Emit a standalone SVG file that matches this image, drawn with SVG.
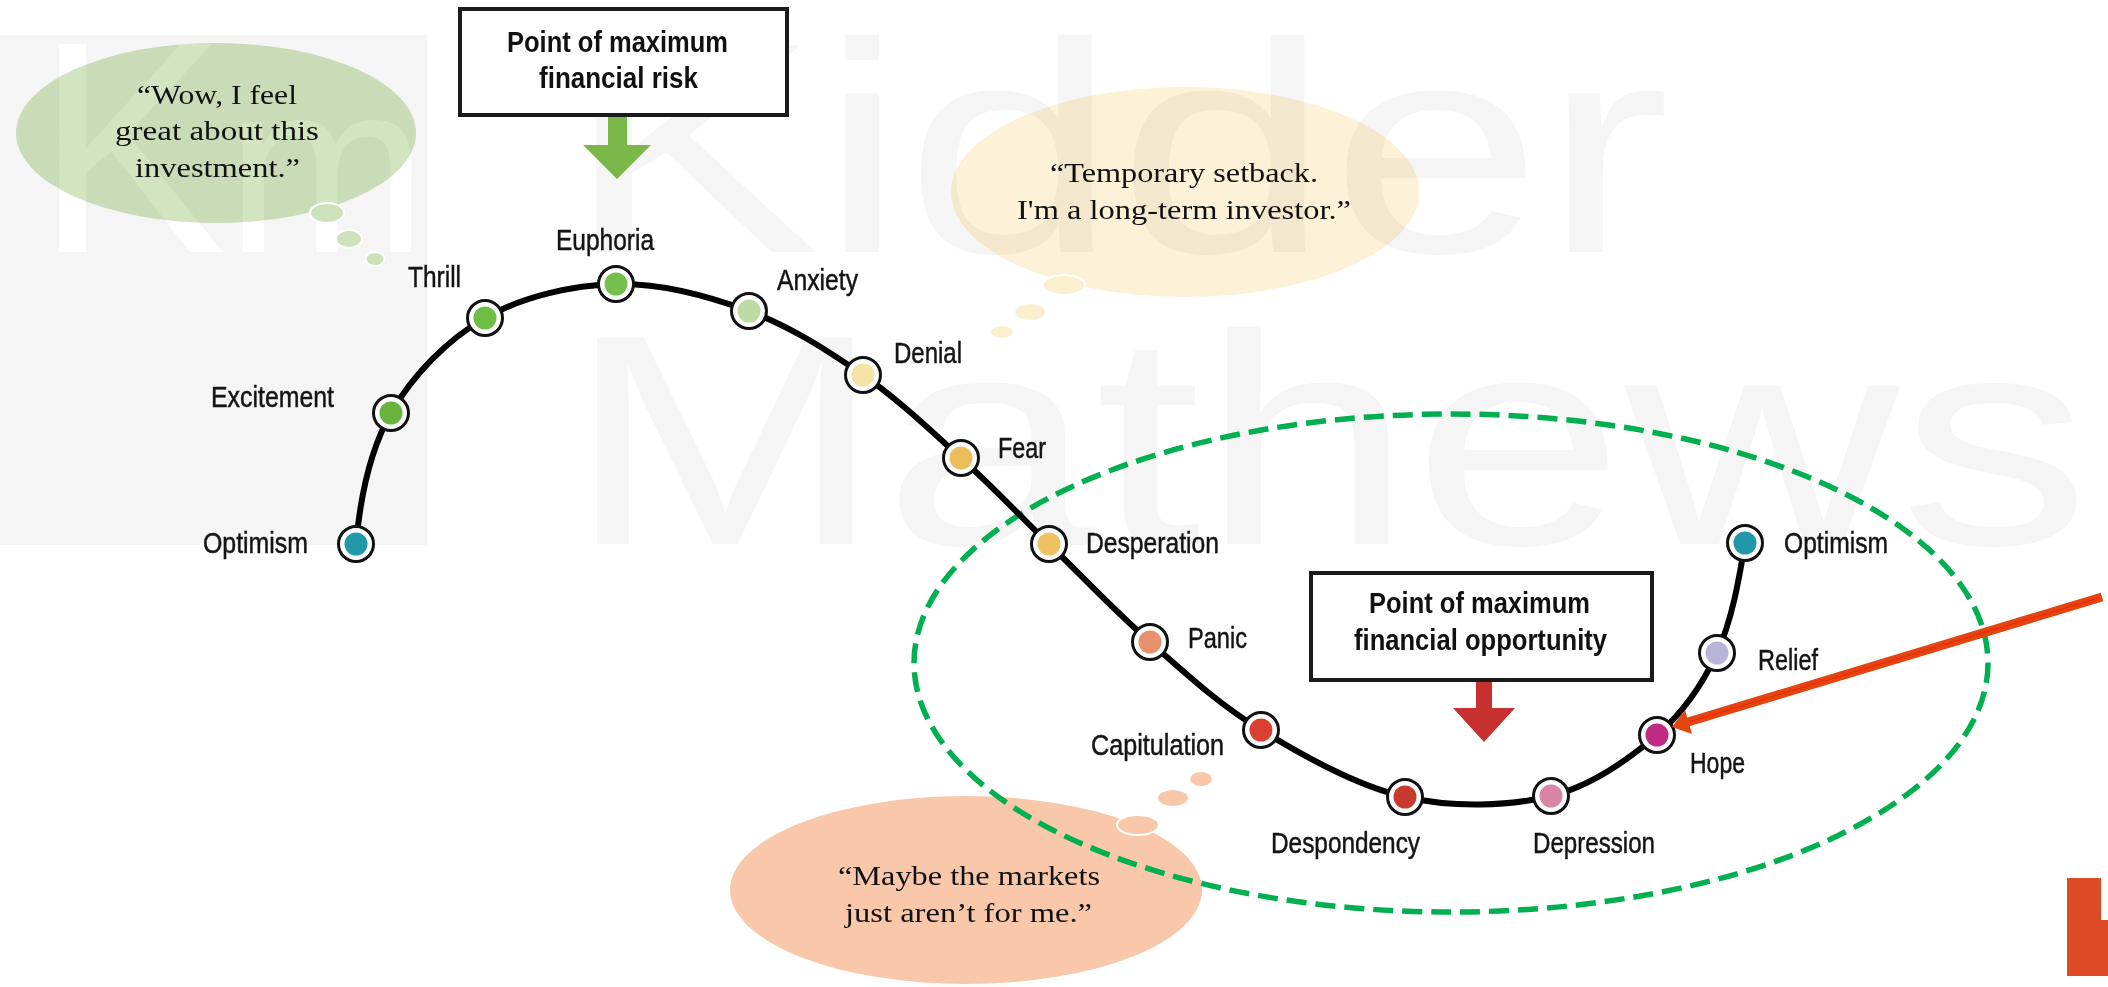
<svg xmlns="http://www.w3.org/2000/svg" width="2108" height="987" viewBox="0 0 2108 987">
<defs>
<style>
.wm{font-family:"Liberation Sans",Arial,sans-serif;fill:#f5f5f5}
.lbl{font-family:"Liberation Sans Narrow","Liberation Sans",Arial,sans-serif;font-size:30px;fill:#141414;stroke:#141414;stroke-width:0.5px}
.ttl{font-family:"Liberation Sans Narrow","Liberation Sans",Arial,sans-serif;font-size:29px;font-weight:bold;fill:#111}
.q{font-family:"Liberation Serif","Times New Roman",serif;font-size:28px;fill:#111}
.ring{fill:#fff;stroke:#111;stroke-width:3}
.box{fill:#fff;stroke:#1a1a1a;stroke-width:4}
.big{mix-blend-mode:multiply}
.puff{stroke:#fff;stroke-width:2}
</style>
<clipPath id="logoclip"><rect x="0" y="35" width="427" height="510"/></clipPath>
</defs>
<rect width="2108" height="987" fill="#fff"/>
<g id="watermark">
<rect x="0" y="35" width="427" height="510" fill="#f5f5f5"/>
<g clip-path="url(#logoclip)">
<text x="36" y="252" font-size="302" fill="#fff" font-family="Liberation Sans, Arial, sans-serif" textLength="190" lengthAdjust="spacingAndGlyphs">K</text>
<text x="226" y="252" font-size="245" fill="#fff" font-family="Liberation Sans, Arial, sans-serif" textLength="201" lengthAdjust="spacingAndGlyphs">m</text>
</g>
<text class="wm" x="565" y="252" font-size="300" textLength="1105" lengthAdjust="spacingAndGlyphs">Kidder</text>
<text class="wm" x="566" y="544" font-size="300" textLength="1524" lengthAdjust="spacingAndGlyphs">Mathews</text>
</g>
<g id="bubble-wow">
<ellipse class="big" cx="216" cy="133" rx="200" ry="90" fill="#d3e4c0"/>
<ellipse class="puff" cx="327" cy="213" rx="17" ry="10" fill="#cfe1bb"/>
<ellipse class="puff" cx="349" cy="239" rx="13" ry="9" fill="#cfe1bb"/>
<ellipse class="puff" cx="375" cy="259" rx="9.5" ry="7" fill="#cfe1bb"/>
<text class="q" x="137" y="104" textLength="160" lengthAdjust="spacingAndGlyphs">“Wow, I feel</text>
<text class="q" x="115" y="140" textLength="204" lengthAdjust="spacingAndGlyphs">great about this</text>
<text class="q" x="135" y="177" textLength="165" lengthAdjust="spacingAndGlyphs">investment.”</text>
</g>
<g id="bubble-setback">
<ellipse class="big" cx="1185" cy="192" rx="234" ry="105" fill="#fdf2d7"/>
<ellipse class="puff" cx="1064" cy="285" rx="21" ry="10" fill="#fcefd0"/>
<ellipse class="puff" cx="1030" cy="312" rx="16" ry="9" fill="#fcefd0"/>
<ellipse class="puff" cx="1002" cy="332" rx="12" ry="7" fill="#fcefd0"/>
<text class="q" x="1050" y="182" textLength="268" lengthAdjust="spacingAndGlyphs">“Temporary setback.</text>
<text class="q" x="1017" y="219" textLength="334" lengthAdjust="spacingAndGlyphs">I'm a long-term investor.”</text>
</g>
<g id="bubble-maybe">
<ellipse class="big" cx="966" cy="890" rx="236" ry="94" fill="#f9c7a9"/>
<ellipse class="puff" cx="1138" cy="825" rx="21" ry="10" fill="#f9c7a9"/>
<ellipse class="puff" cx="1173" cy="798" rx="16" ry="9" fill="#f9c7a9"/>
<ellipse class="puff" cx="1201" cy="779" rx="12" ry="8" fill="#f9c7a9"/>
<text class="q" x="838" y="885" textLength="262" lengthAdjust="spacingAndGlyphs">“Maybe the markets</text>
<text class="q" x="845" y="922" textLength="247" lengthAdjust="spacingAndGlyphs">just aren’t for me.”</text>
</g>
<g id="opportunity-zone">
<ellipse cx="1451" cy="663" rx="537" ry="249" fill="none" stroke="#00b050" stroke-width="5.5" stroke-dasharray="20 9"/>
</g>
<g id="connectors">
<path d="M356,544 C360,500 369.5,450.7 391,413 C412.5,375.3 447.5,339.5 485,318 C522.5,296.5 572,285.2 616,284 C660,282.8 707.8,295.8 749,311 C790.2,326.2 827.7,350.5 863,375 C898.3,399.5 930,429.8 961,458 C992,486.2 1017.5,513.3 1049,544 C1080.5,574.7 1114.7,611 1150,642 C1185.3,673 1218.5,704.2 1261,730 C1303.5,755.8 1356.7,786 1405,797 C1453.3,808 1509,806.3 1551,796 C1593,785.7 1629.3,758.8 1657,735 C1684.7,711.2 1702.3,685 1717,653 C1731.7,621 1739,580 1745,543" fill="none" stroke="#000" stroke-width="6"/>
</g>
<g id="n-optimism-1"><circle class="ring" cx="356" cy="544" r="17.5"/><circle cx="356" cy="544" r="11.5" fill="#2298ab"/><text class="lbl" x="203" y="553" textLength="105" lengthAdjust="spacingAndGlyphs">Optimism</text></g>
<g id="n-excitement"><circle class="ring" cx="391" cy="413" r="17.5"/><circle cx="391" cy="413" r="11.5" fill="#6ab43e"/><text class="lbl" x="211" y="407" textLength="123" lengthAdjust="spacingAndGlyphs">Excitement</text></g>
<g id="n-thrill"><circle class="ring" cx="485" cy="318" r="17.5"/><circle cx="485" cy="318" r="11.5" fill="#6fbe44"/><text class="lbl" x="408" y="287" textLength="53" lengthAdjust="spacingAndGlyphs">Thrill</text></g>
<g id="n-euphoria"><circle class="ring" cx="616" cy="284" r="17.5"/><circle cx="616" cy="284" r="11.5" fill="#74c04a"/><text class="lbl" x="556" y="250" textLength="98" lengthAdjust="spacingAndGlyphs">Euphoria</text></g>
<g id="n-anxiety"><circle class="ring" cx="749" cy="311" r="17.5"/><circle cx="749" cy="311" r="11.5" fill="#bcdca4"/><text class="lbl" x="777" y="290" textLength="81" lengthAdjust="spacingAndGlyphs">Anxiety</text></g>
<g id="n-denial"><circle class="ring" cx="863" cy="375" r="17.5"/><circle cx="863" cy="375" r="11.5" fill="#f5e4a6"/><text class="lbl" x="894" y="363" textLength="68" lengthAdjust="spacingAndGlyphs">Denial</text></g>
<g id="n-fear"><circle class="ring" cx="961" cy="458" r="17.5"/><circle cx="961" cy="458" r="11.5" fill="#edbd5c"/><text class="lbl" x="998" y="458" textLength="48" lengthAdjust="spacingAndGlyphs">Fear</text></g>
<g id="n-desperation"><circle class="ring" cx="1049" cy="544" r="17.5"/><circle cx="1049" cy="544" r="11.5" fill="#f0c264"/><text class="lbl" x="1086" y="553" textLength="133" lengthAdjust="spacingAndGlyphs">Desperation</text></g>
<g id="n-panic"><circle class="ring" cx="1150" cy="642" r="17.5"/><circle cx="1150" cy="642" r="11.5" fill="#e8906c"/><text class="lbl" x="1188" y="648" textLength="59" lengthAdjust="spacingAndGlyphs">Panic</text></g>
<g id="n-capitulation"><circle class="ring" cx="1261" cy="730" r="17.5"/><circle cx="1261" cy="730" r="11.5" fill="#d9402f"/><text class="lbl" x="1091" y="755" textLength="133" lengthAdjust="spacingAndGlyphs">Capitulation</text></g>
<g id="n-despondency"><circle class="ring" cx="1405" cy="797" r="17.5"/><circle cx="1405" cy="797" r="11.5" fill="#c83a2e"/><text class="lbl" x="1271" y="853" textLength="149" lengthAdjust="spacingAndGlyphs">Despondency</text></g>
<g id="n-depression"><circle class="ring" cx="1551" cy="796" r="17.5"/><circle cx="1551" cy="796" r="11.5" fill="#d986a6"/><text class="lbl" x="1533" y="853" textLength="122" lengthAdjust="spacingAndGlyphs">Depression</text></g>
<g id="n-hope"><circle class="ring" cx="1657" cy="735" r="17.5"/><circle cx="1657" cy="735" r="11.5" fill="#c02a84"/><text class="lbl" x="1690" y="773" textLength="55" lengthAdjust="spacingAndGlyphs">Hope</text></g>
<g id="n-relief"><circle class="ring" cx="1717" cy="653" r="17.5"/><circle cx="1717" cy="653" r="11.5" fill="#b9b5d9"/><text class="lbl" x="1758" y="670" textLength="60" lengthAdjust="spacingAndGlyphs">Relief</text></g>
<g id="n-optimism-2"><circle class="ring" cx="1745" cy="543" r="17.5"/><circle cx="1745" cy="543" r="11.5" fill="#2297aa"/><text class="lbl" x="1784" y="553" textLength="104" lengthAdjust="spacingAndGlyphs">Optimism</text></g>
<g id="box-risk">
<rect class="box" x="460" y="9" width="327" height="106"/>
<text class="ttl" x="507" y="52" textLength="221" lengthAdjust="spacingAndGlyphs">Point of maximum</text>
<text class="ttl" x="539" y="88" textLength="159" lengthAdjust="spacingAndGlyphs">financial risk</text>
<polygon points="608,117 627,117 627,145 651,145 617,179 583,145 608,145" fill="#7ab648"/>
</g>
<g id="box-opportunity">
<rect class="box" x="1311" y="573" width="341" height="107"/>
<text class="ttl" x="1369" y="613" textLength="221" lengthAdjust="spacingAndGlyphs">Point of maximum</text>
<text class="ttl" x="1354" y="650" textLength="253" lengthAdjust="spacingAndGlyphs">financial opportunity</text>
<polygon points="1476,682 1492,682 1492,708 1515,708 1484,742 1453,708 1476,708" fill="#c8302f"/>
</g>
<g id="pointer">
<line x1="2102" y1="597" x2="1688" y2="722" stroke="#e2450f" stroke-width="9"/>
<line x1="2100" y1="597.5" x2="1690" y2="721.5" stroke="#ff1a00" stroke-width="1"/>
<polygon points="1672,727 1692,734 1685,710" fill="#e2450f"/>
</g>
<g id="corner-mark">
<polygon points="2067,878 2101,878 2101,920 2108,920 2108,976 2067,976" fill="#dc4a26"/>
</g>
</svg>
